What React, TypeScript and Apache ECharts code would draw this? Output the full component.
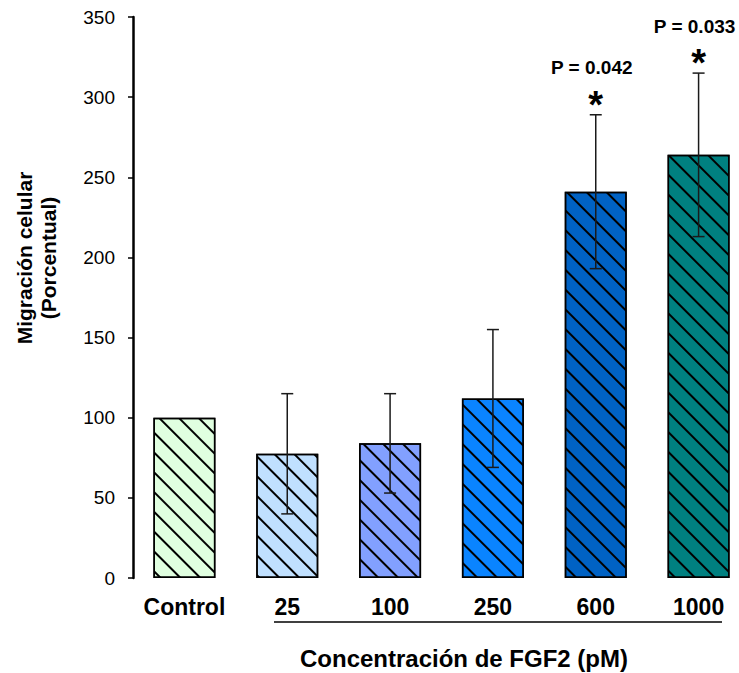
import React, { useEffect, useRef } from "react";
import * as echarts from "echarts";

const categories = ["Control", "25", "100", "250", "600", "1000"];
const means = [100, 77.5, 84, 112, 241, 264];
const errors = [0, 37.5, 31, 43, 48, 51];
const pLabels = ["", "", "", "", "P = 0.042", "P = 0.033"];
const significant = [false, false, false, false, true, true];
const barColors = ["#E0FFE0", "#C0E0FF", "#82A0FF", "#0A84FF", "#0062C4", "#008080"];
const yTicks = { min: 0, max: 350, interval: 50 };

const FONT = "'Liberation Sans', Arial, sans-serif";

export default function App() {
  const ref = useRef<HTMLDivElement>(null);
  useEffect(() => {
    if (!ref.current) return;
    const chart = echarts.init(ref.current, null, { renderer: "svg" });
    const hatch = {
      symbol: "rect",
      symbolSize: 1,
      color: "#000",
      dashArrayX: [1, 0],
      dashArrayY: [1.5, 11.2],
      rotation: Math.PI / 4,
    };
    const barData = means.map((v, i) => ({
      value: v,
      itemStyle: {
        color: barColors[i],
        borderColor: "#000",
        borderWidth: 1.5,
        decal: hatch,
      },
    }));
    const errData = means.map((v, i) => [i, v - errors[i], v + errors[i], errors[i] > 0 ? 1 : 0, significant[i] ? 1 : 0]);
    chart.setOption({
      animation: false,
      grid: { left: 133, top: 17, height: 561, width: 617 },
      xAxis: {
        type: "category",
        data: categories,
        axisLine: { show: false },
        axisTick: { show: false },
        axisLabel: {
          interval: 0,
          color: "#000",
          fontFamily: FONT,
          fontWeight: "bold",
          fontSize: 23,
          margin: 17,
        },
      },
      yAxis: {
        type: "value",
        min: yTicks.min,
        max: yTicks.max,
        interval: yTicks.interval,
        splitLine: { show: false },
        axisLine: { show: true, lineStyle: { color: "#000", width: 2.5 } },
        axisTick: { show: true, length: 5, lineStyle: { color: "#000", width: 1.5 } },
        axisLabel: { color: "#000", fontFamily: FONT, fontSize: 19, margin: 18 },
      },
      series: [
        {
          type: "bar",
          data: barData,
          barWidth: 62,
          z: 2,
        },
        {
          type: "custom",
          z: 5,
          data: errData,
          renderItem: (params: any, api: any) => {
            const idx = api.value(0);
            const lo = api.coord([idx, api.value(1)]);
            const hi = api.coord([idx, api.value(2)]);
            const hasErr = api.value(3) === 1;
            const sig = api.value(4) === 1;
            const children: any[] = [];
            const ls = { stroke: "#1a1a1a", lineWidth: 1.5 };
            if (hasErr) {
              children.push({ type: "line", shape: { x1: hi[0], y1: hi[1], x2: lo[0], y2: lo[1] }, style: ls });
              children.push({ type: "line", shape: { x1: hi[0] - 6, y1: hi[1], x2: hi[0] + 6, y2: hi[1] }, style: ls });
              children.push({ type: "line", shape: { x1: lo[0] - 6, y1: lo[1], x2: lo[0] + 6, y2: lo[1] }, style: ls });
            }
            if (sig) {
              children.push({
                type: "text",
                x: hi[0],
                y: hi[1] - 10,
                style: {
                  text: "*",
                  fill: "#000",
                  font: `bold 38px ${FONT}`,
                  textAlign: "center",
                  textVerticalAlign: "middle",
                },
              });
              children.push({
                type: "text",
                x: hi[0] - 4,
                y: hi[1] - 47,
                style: {
                  text: pLabels[idx],
                  fill: "#000",
                  font: `bold 19px ${FONT}`,
                  textAlign: "center",
                  textVerticalAlign: "middle",
                },
              });
            }
            return { type: "group", children };
          },
        },
      ],
      graphic: [
        {
          type: "text",
          x: 36,
          y: 258,
          rotation: Math.PI / 2,
          style: {
            text: "Migración celular\n(Porcentual)",
            fill: "#000",
            font: `bold 21px ${FONT}`,
            lineHeight: 24,
            textAlign: "center",
            textVerticalAlign: "middle",
          },
        },
        {
          type: "line",
          shape: { x1: 274, y1: 622, x2: 722, y2: 622 },
          style: { stroke: "#000", lineWidth: 1.5 },
        },
        {
          type: "text",
          x: 464,
          y: 658,
          style: {
            text: "Concentración de FGF2 (pM)",
            fill: "#000",
            font: `bold 24px ${FONT}`,
            textAlign: "center",
            textVerticalAlign: "middle",
          },
        },
      ],
    });
    return () => chart.dispose();
  }, []);
  return (
    <div style={{ position: "absolute", left: 0, top: 0, width: 739, height: 673, overflow: "hidden", background: "#fff" }}>
      <div ref={ref} style={{ width: 760, height: 673 }} />
    </div>
  );
}
